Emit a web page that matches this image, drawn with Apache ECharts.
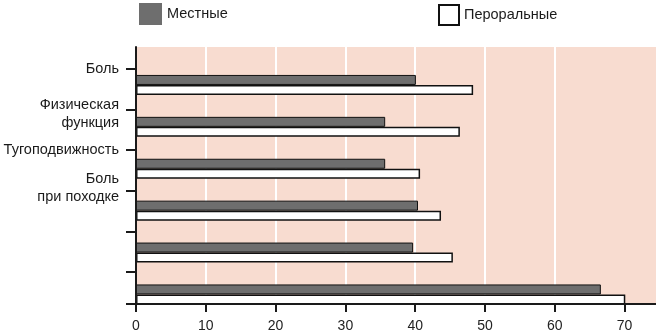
<!DOCTYPE html>
<html>
<head>
<meta charset="utf-8">
<script src="https://cdn.jsdelivr.net/npm/echarts@6/dist/echarts.min.js"></script>
<style>
  html, body { margin: 0; padding: 0; background: #fff; }
  #chart { width: 656px; height: 334px; }
</style>
</head>
<body>
<div id="chart"></div>
<script>
// Categories (top to bottom); the last two rows carry no label
const categories = ['Боль', 'Физическая\nфункция', 'Тугоподвижность', 'Боль\nпри походке', '', ''];
const seriesNames = ['Местные', 'Пероральные'];
const topicalValues = [40.1, 35.7, 35.7, 40.4, 39.7, 66.6];
const oralValues = [48.3, 46.4, 40.7, 43.7, 45.4, 70.1];
const xTickLabels = [0, 10, 20, 30, 40, 50, 60, 70];

const FONT = '"Liberation Sans", Arial, Helvetica, sans-serif';
const X_MAX = 74.5;
// Row-tick scale on the left axis: tick k sits at value k;
// two-line labels are nudged slightly off their tick
const Y_MIN = -0.54;
const Y_MAX = 5.79;
const labelRows = [0, 1.11, 2, 2.93];
const tickRows = [0, 1, 2, 3, 4, 5, Y_MAX];

const CLEAR = 'rgba(0,0,0,0)';

const chart = echarts.init(document.getElementById('chart'), null, { renderer: 'canvas' });

chart.setOption({
  animation: false,
  textStyle: { fontFamily: FONT },
  legend: [
    {
      left: 139, top: 3, padding: 0, icon: 'rect', itemWidth: 23, itemHeight: 22, itemGap: 0,
      textStyle: { fontFamily: FONT, fontSize: 14.5, color: '#1a1a1a' },
      data: [{ name: seriesNames[0], itemStyle: { borderWidth: 0 } }]
    },
    {
      left: 438, top: 4, padding: 0, icon: 'rect', itemWidth: 20, itemHeight: 20, itemGap: 0,
      textStyle: { fontFamily: FONT, fontSize: 14.5, color: '#1a1a1a' },
      data: [{ name: seriesNames[1], itemStyle: { borderColor: '#111', borderWidth: 2 } }]
    }
  ],
  grid: [
    // frame: shaded plot area, axes, ticks and labels
    { left: 136, right: 0, top: 47, bottom: 30, show: true, backgroundColor: '#f8dcd0', borderWidth: 0 },
    // bars
    { left: 136, right: 0, top: 64, bottom: 18.6, show: false }
  ],
  xAxis: [
    {
      gridIndex: 0, type: 'value', min: 0, max: X_MAX, interval: 10,
      axisLine: { show: false }, axisTick: { show: false }, axisLabel: { show: false },
      splitLine: {
        show: true,
        lineStyle: { width: 2, color: [CLEAR, '#fff', '#fff', '#fff', '#fff', '#fff', '#fff', CLEAR, CLEAR] }
      }
    },
    {
      gridIndex: 0, type: 'value', position: 'bottom', min: 0, max: X_MAX, interval: 10, z: 3,
      axisLine: { show: true, onZero: false, lineStyle: { color: '#1a1a1a', width: 2 } },
      axisTick: { show: true, length: 8, lineStyle: { color: '#1a1a1a', width: 2 }, customValues: xTickLabels },
      axisLabel: {
        show: true, margin: 15, fontSize: 14, color: '#222', fontFamily: FONT,
        customValues: xTickLabels
      },
      splitLine: { show: false }
    },
    { gridIndex: 1, type: 'value', min: 0, max: X_MAX, show: false }
  ],
  yAxis: [
    {
      gridIndex: 0, type: 'value', inverse: true, min: Y_MIN, max: Y_MAX, z: 3,
      axisLine: { show: true, onZero: false, lineStyle: { color: '#1a1a1a', width: 2 } },
      axisTick: { show: true, length: 10, lineStyle: { color: '#1a1a1a', width: 2 }, customValues: tickRows },
      axisLabel: {
        show: true, margin: 17, fontSize: 14.5, lineHeight: 18, color: '#1a1a1a', fontFamily: FONT,
        customValues: labelRows,
        formatter: v => categories[Math.round(v)] || ''
      },
      splitLine: { show: false }
    },
    { gridIndex: 1, type: 'category', data: categories, inverse: true, show: false }
  ],
  series: [
    {
      name: seriesNames[0], type: 'bar', xAxisIndex: 2, yAxisIndex: 1,
      data: topicalValues, barWidth: 10, barGap: '0%',
      itemStyle: { color: '#6e6e6e', borderColor: '#111', borderWidth: 1 }
    },
    {
      name: seriesNames[1], type: 'bar', xAxisIndex: 2, yAxisIndex: 1,
      data: oralValues, barWidth: 10, barGap: '0%',
      itemStyle: { color: '#ffffff', borderColor: '#111', borderWidth: 1.5 }
    }
  ]
});
</script>
</body>
</html>
